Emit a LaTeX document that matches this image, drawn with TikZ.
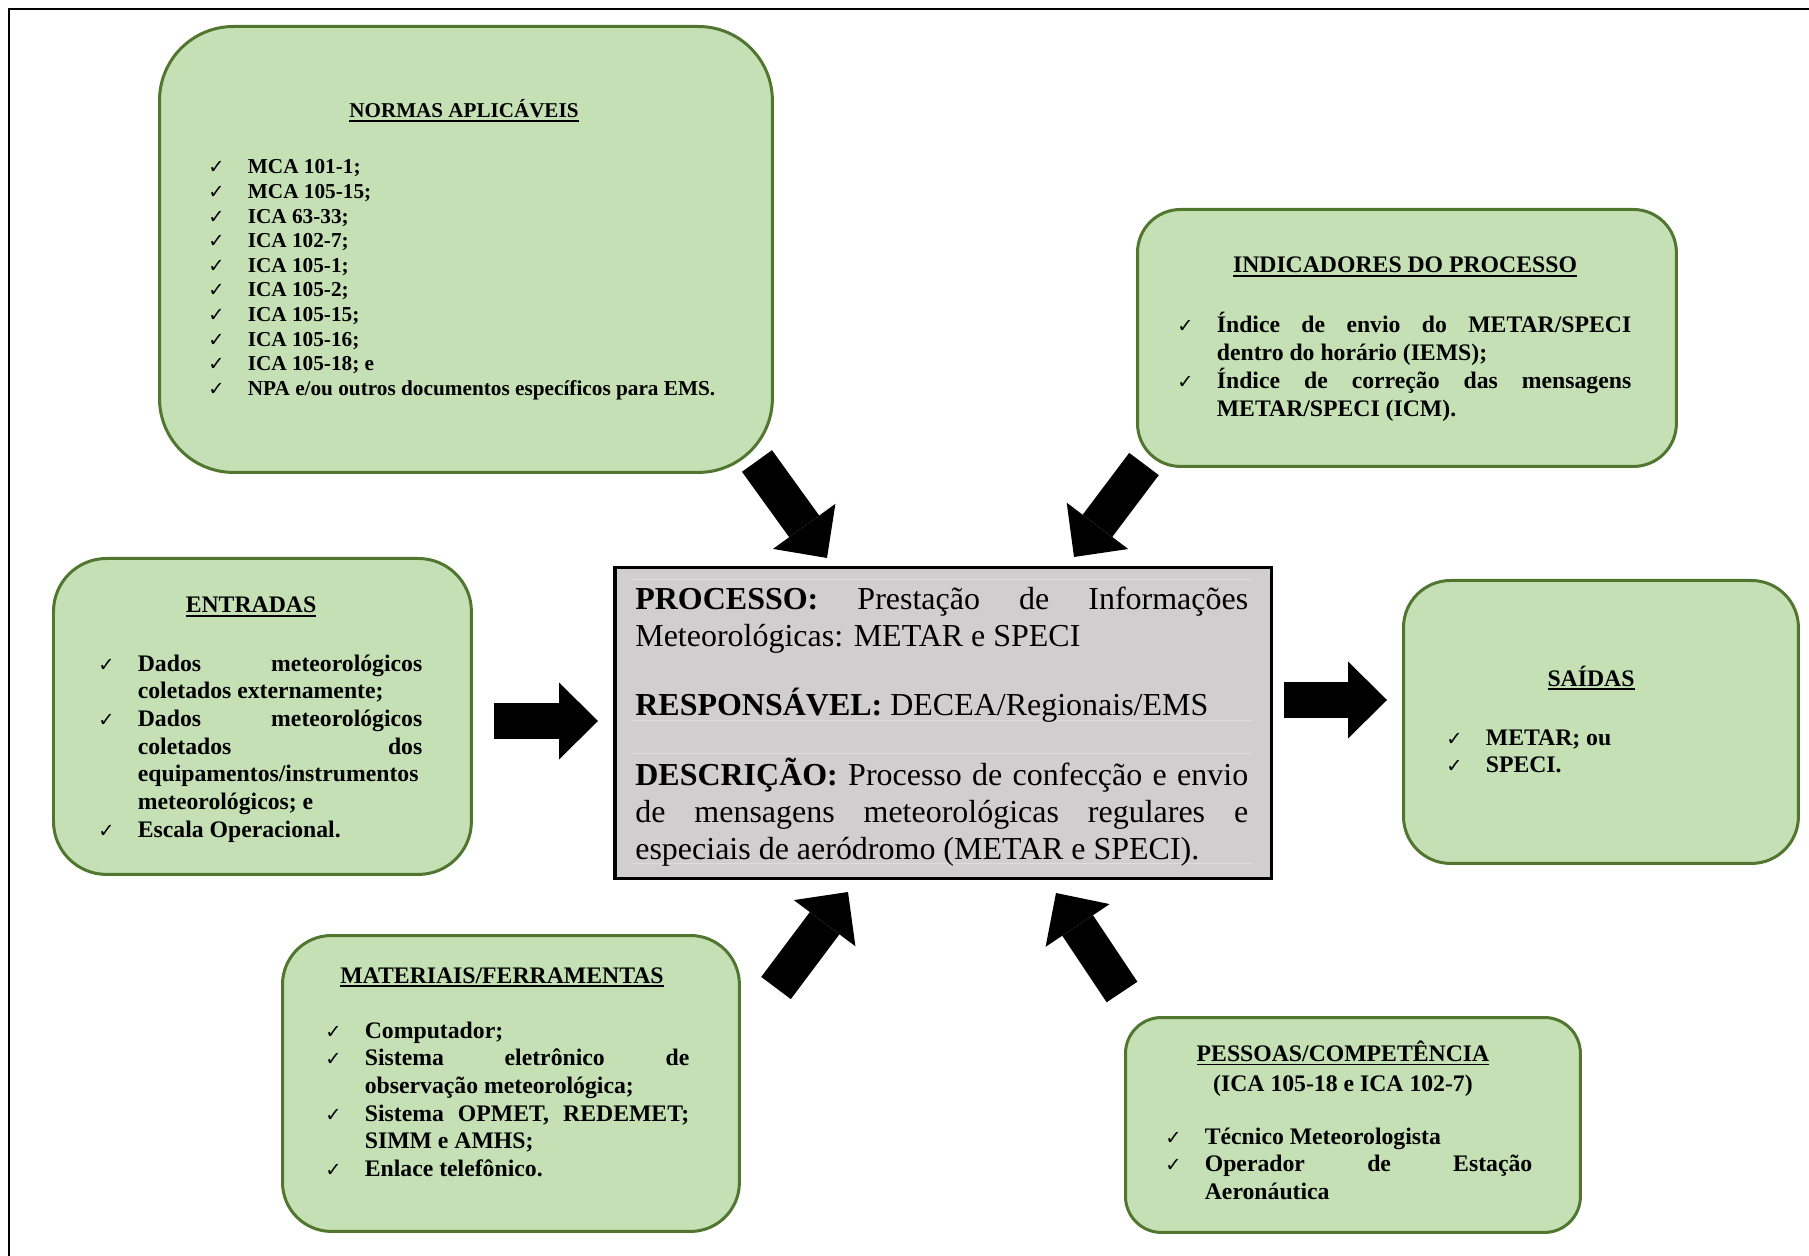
\documentclass[tikz,border=0pt]{standalone}
\usepackage{fontspec}
\setmainfont{Liberation Serif}
\newfontfamily\checkfont{DejaVu Sans}
\usetikzlibrary{arrows.meta}

\definecolor{boxgreen}{RGB}{197,224,180}
\definecolor{boxline}{RGB}{80,118,48}
\definecolor{procgray}{RGB}{208,206,207}
\definecolor{procrule}{RGB}{222,221,222}

\newlength{\chkind}
\setlength{\chkind}{0.79cm}
\newcommand{\listsetup}{\hyphenpenalty=10000 \exhyphenpenalty=10000 \tolerance=10000 \parskip=0pt}
\newcommand{\chkmark}{\noindent\hangindent=\chkind\hangafter=1\makebox[\chkind][l]{\checkfont\mdseries\fontsize{11pt}{11pt}\selectfont ✓}\ignorespaces}
\newcommand{\chkitem}{\par\chkmark}
\newcommand{\uttl}[1]{\setbox0\hbox{#1}\rlap{\rule[-2.3pt]{\wd0}{0.9pt}}\box0}

\tikzset{
	greenbox/.style={draw=boxline, line width=0.06cm, fill=boxgreen, anchor=north west, inner sep=0pt},
	procbox/.style={draw=black, line width=0.07cm, fill=procgray, anchor=north west, inner sep=0pt},
	boxtitle/.style={anchor=base, inner sep=0pt, font=\bfseries\fontsize{13.5pt}{17pt}\selectfont},
	itemlist/.style={anchor=base west, inner sep=0pt, align=justify, font=\bfseries\fontsize{13.5pt}{15.76pt}\selectfont\listsetup},
	bigarrow/.style={line width=0.74cm, -{Triangle[width=1.54cm, length=0.78cm, line width=0pt]}},
}

\begin{document}
\begin{tikzpicture}[x=0.02cm, y=-0.02cm]
	\useasboundingbox (0,0) rectangle (1809,1256);
	%frame
	\draw[line width=0.05cm] (1809,9) -- (9,9) -- (9,1256);

	%boxes
	\node[greenbox, rounded corners=1.48cm, minimum width=12.26cm, minimum height=8.92cm] (normas) at (158,25) {};
	\node[greenbox, rounded corners=0.86cm, minimum width=10.78cm, minimum height=5.14cm] (indic) at (1136,208) {};
	\node[greenbox, rounded corners=1.06cm, minimum width=8.36cm, minimum height=6.32cm] (entr) at (52,557) {};
	\node[greenbox, rounded corners=0.94cm, minimum width=7.9cm, minimum height=5.66cm] (saidas) at (1402,579) {};
	\node[greenbox, rounded corners=0.98cm, minimum width=9.14cm, minimum height=5.92cm] (mat) at (281,934) {};
	\node[greenbox, rounded corners=0.72cm, minimum width=9.1cm, minimum height=4.3cm] (pess) at (1124,1016) {};
	\node[procbox, minimum width=13.14cm, minimum height=6.22cm] (proc) at (613,566) {};
	\foreach \y in {579, 720, 753, 863}{
		\draw[procrule, line width=0.4pt] (632,\y) -- (1252,\y);
	}

	%titles
	\node[boxtitle, font=\bfseries\fontsize{12pt}{14pt}\selectfont] (normasT) at (464,118) {\uttl{NORMAS APLICÁVEIS}};
	\node[boxtitle] (indicT) at (1405,273) {\uttl{INDICADORES DO PROCESSO}};
	\node[boxtitle] (entrT) at (251,613) {\uttl{ENTRADAS}};
	\node[boxtitle] (saidT) at (1591,686) {\uttl{SAÍDAS}};
	\node[boxtitle] (matT) at (502,983) {\uttl{MATERIAIS/FERRAMENTAS}};
	\node[boxtitle, align=center] (pessT) at (1343,1091) {\uttl{PESSOAS/COMPETÊNCIA}\\(ICA 105-18 e ICA 102-7)};

	%lists
	\node[itemlist, text width=10.46cm, font=\bfseries\fontsize{12.1pt}{14pt}\selectfont\listsetup] (normasL) at (208,174) {%
		\chkmark MCA 101-1;
		\chkitem MCA 105-15;
		\chkitem ICA 63-33;
		\chkitem ICA 102-7;
		\chkitem ICA 105-1;
		\chkitem ICA 105-2;
		\chkitem ICA 105-15;
		\chkitem ICA 105-16;
		\chkitem ICA 105-18; e
		\chkitem NPA e/ou outros documentos específicos para EMS.\par};
	\node[itemlist, text width=9.08cm] (indicL) at (1177,333) {%
		\chkmark Índice de envio do METAR/SPECI \linebreak dentro do horário (IEMS);
		\chkitem Índice de correção das mensagens \linebreak METAR/SPECI (ICM).\par};
	\node[itemlist, text width=6.48cm] (entrL) at (98,671) {%
		\chkmark Dados meteorológicos \linebreak coletados externamente;
		\chkitem Dados meteorológicos \linebreak coletados dos \linebreak equipamentos/instrumentos \linebreak meteorológicos; e
		\chkitem Escala Operacional.\par};
	\node[itemlist, text width=6cm] (saidL) at (1446,745) {%
		\chkmark METAR; ou
		\chkitem SPECI.\par};
	\node[itemlist, text width=7.28cm] (matL) at (325,1038) {%
		\chkmark Computador;
		\chkitem Sistema eletrônico de \linebreak observação meteorológica;
		\chkitem Sistema OPMET, REDEMET; \linebreak SIMM e AMHS;
		\chkitem Enlace telefônico.\par};
	\node[itemlist, text width=7.34cm] (pessL) at (1165,1144) {%
		\chkmark Técnico Meteorologista
		\chkitem Operador de Estação \linebreak Aeronáutica\par};

	%process text
	\node[anchor=base west, inner sep=0pt, text width=12.26cm, align=justify, font=\fontsize{18.2pt}{21.06pt}\selectfont\listsetup] (procT) at (635,609) {%
		\textbf{PROCESSO:} Prestação de Informações \linebreak Meteorológicas: METAR e SPECI\par\vspace{18.5pt}
		\textbf{RESPONSÁVEL:} DECEA/Regionais/EMS\par\vspace{18.5pt}
		\textbf{DESCRIÇÃO:} Processo de confecção e envio \linebreak de mensagens meteorológicas regulares e \linebreak especiais de aeródromo (METAR e SPECI).\par};

	%arrows
	\coordinate (normasA) at (757,461);
	\coordinate (normasB) at (827,558);
	\coordinate (indicA) at (1144,464);
	\coordinate (indicB) at (1074,557);
	\coordinate (entrA) at (494,721);
	\coordinate (entrB) at (598,721);
	\coordinate (saidA) at (1284,700);
	\coordinate (saidB) at (1387,700);
	\coordinate (matA) at (776,988);
	\coordinate (matB) at (848,892);
	\coordinate (pessA) at (1122,992);
	\coordinate (pessB) at (1056,893);
	\foreach \a in {normas, indic, entr, said, mat, pess}{
		\draw[bigarrow] (\a A) -- (\a B);
	}
\end{tikzpicture}
\end{document}
